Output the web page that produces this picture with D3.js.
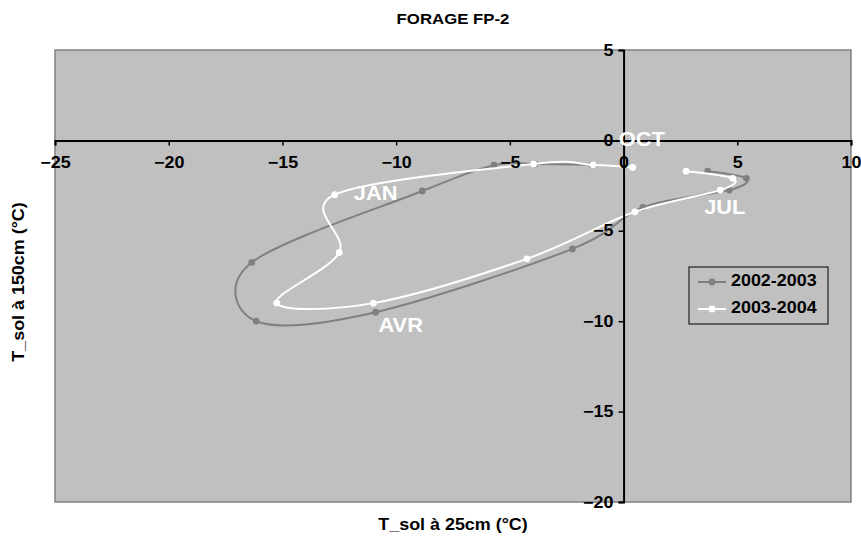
<!DOCTYPE html>
<html>
<head>
<meta charset="utf-8">
<script src="https://cdn.jsdelivr.net/npm/d3@7"></script>
<style>
  html, body { margin: 0; padding: 0; background: #ffffff; }
  svg { display: block; font-family: Arial, "Liberation Sans", sans-serif; }
</style>
</head>
<body>
<svg id="chart" width="861" height="543"></svg>
<script>
// Monthly mean soil temperatures: 25 cm depth (x) vs 150 cm depth (y), °C
const months = ["OCT", "NOV", "DEC", "JAN", "FEV", "MAR", "AVR", "MAI", "JUN", "JUL", "AOU", "SEP"];
const t25_2002 = [-1.4, -3.9, -5.7, -8.85, -16.35, -16.15, -10.9, -2.25, 0.85, 4.65, 5.4, 3.7];
const t150_2002 = [-1.35, -1.3, -1.37, -2.8, -6.75, -10.0, -9.5, -6.0, -3.7, -2.75, -2.1, -1.7];
const t25_2003 = [0.4, -1.35, -3.95, -12.7, -12.5, -15.25, -11.0, -4.25, 0.5, 4.25, 4.8, 2.75];
const t150_2003 = [-1.5, -1.35, -1.3, -3.0, -6.2, -9.0, -9.0, -6.55, -3.95, -2.75, -2.1, -1.7];
const seriesNames = ["2002-2003", "2003-2004"];
const xTicks = [-25, -20, -15, -10, -5, 0, 5, 10];
const yTicks = [5, 0, -5, -10, -15, -20];
// Month labels written on the plot: [text, x (°C at 25cm), y (°C at 150cm)]
const monthLabels = [["OCT", 0.8, 0.0], ["JAN", -10.9, -3.0], ["AVR", -9.8, -10.3], ["JUL", 4.45, -3.8]];

const svg = d3.select("#chart");
const plot = { left: 55, right: 851, top: 50, bottom: 502 };
const WIDE = "scale(1.12,1)"; // the typeface is set slightly wide

const x = d3.scaleLinear().domain([-25, 10]).range([plot.left, plot.right]);
const y = d3.scaleLinear().domain([-20, 5]).range([plot.bottom, plot.top]);

// plot area
svg.append("rect")
  .attr("x", plot.left).attr("y", plot.top)
  .attr("width", plot.right - plot.left).attr("height", plot.bottom - plot.top)
  .attr("fill", "#c0c0c0").attr("stroke", "#808080").attr("stroke-width", 1.5);

// places a horizontally widened label centred/anchored at (px, py)
function wideText(parent, px, py, str, size, anchor, color) {
  return parent.append("g").attr("transform", `translate(${px},${py})`)
    .append("text").attr("transform", WIDE)
    .attr("text-anchor", anchor).attr("dominant-baseline", "middle")
    .attr("font-size", size).attr("font-weight", "bold").attr("fill", color)
    .text(str);
}

// title
wideText(svg, (plot.left + plot.right) / 2, 20, "FORAGE FP-2", 15, "middle", "#000");

// axes crossing at the origin
const xAxis = d3.axisBottom(x).tickValues(xTicks).tickSize(5).tickFormat(d3.format("d"));
const yAxis = d3.axisLeft(y).tickValues(yTicks).tickSize(5).tickFormat(d3.format("d"));

const series = [
  { name: seriesNames[0], xs: t25_2002, ys: t150_2002, color: "#808080" },
  { name: seriesNames[1], xs: t25_2003, ys: t150_2003, color: "#ffffff" }
];

const line = d3.line().x(d => x(d[0])).y(d => y(d[1])).curve(d3.curveCatmullRom.alpha(0));

series.forEach(s => {
  const pts = s.xs.map((v, i) => [v, s.ys[i]]);
  const g = svg.append("g");
  g.append("path").attr("d", line(pts))
    .attr("fill", "none").attr("stroke", s.color).attr("stroke-width", 2);
  g.selectAll("circle").data(pts).join("circle")
    .attr("cx", d => x(d[0])).attr("cy", d => y(d[1])).attr("r", 3.4)
    .attr("fill", s.color);
});

const gx = svg.append("g").attr("transform", `translate(0,${y(0)})`).call(xAxis);
gx.select(".domain").attr("stroke", "#000").attr("stroke-width", 2);
gx.selectAll(".tick line").attr("stroke", "#000").attr("stroke-width", 1.5);
gx.selectAll(".tick text").attr("font-size", 16).attr("font-weight", "bold")
  .attr("font-family", "Arial, 'Liberation Sans', sans-serif").attr("fill", "#000")
  .attr("y", 23).attr("dy", "0").attr("dominant-baseline", "middle").attr("transform", WIDE);

const gy = svg.append("g").attr("transform", `translate(${x(0)},0)`).call(yAxis);
gy.select(".domain").attr("stroke", "#000").attr("stroke-width", 2);
gy.selectAll(".tick line").attr("stroke", "#000").attr("stroke-width", 1.5);
gy.selectAll(".tick text").attr("font-size", 16).attr("font-weight", "bold")
  .attr("font-family", "Arial, 'Liberation Sans', sans-serif").attr("fill", "#000")
  .attr("x", -9).attr("transform", WIDE);

// month annotations
const ml = svg.append("g");
monthLabels.forEach(d => wideText(ml, x(d[1]), y(d[2]), d[0], 19.5, "middle", "#ffffff"));

// axis titles
wideText(svg, (plot.left + plot.right) / 2, 526, "T_sol à 25cm (°C)", 16, "middle", "#000");
svg.append("g").attr("transform", `translate(20,${(plot.top + plot.bottom) / 2 + 6}) rotate(-90)`)
  .append("text").attr("transform", WIDE)
  .attr("text-anchor", "middle").attr("dominant-baseline", "middle")
  .attr("font-size", 16).attr("font-weight", "bold").text("T_sol à 150cm (°C)");

// legend
const lg = svg.append("g").attr("transform", "translate(689,267)");
lg.append("rect").attr("width", 139).attr("height", 57)
  .attr("fill", "#c0c0c0").attr("stroke", "#000").attr("stroke-width", 1);
series.forEach((s, i) => {
  const row = lg.append("g").attr("transform", `translate(0,${15 + i * 27})`);
  row.append("line").attr("x1", 9).attr("x2", 37).attr("y1", 0).attr("y2", 0)
    .attr("stroke", s.color).attr("stroke-width", 2);
  row.append("circle").attr("cx", 23).attr("cy", 0).attr("r", 3.4).attr("fill", s.color);
  wideText(row, 42, 0, s.name, 16, "start", "#000");
});
</script>
</body>
</html>
